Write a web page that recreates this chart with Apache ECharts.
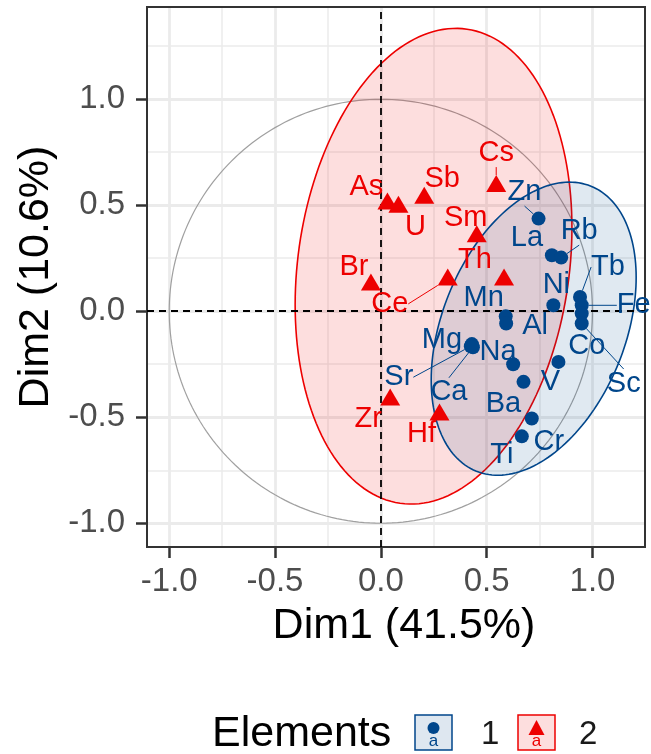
<!DOCTYPE html>
<html>
<head>
<meta charset="utf-8">
<script src="https://cdn.jsdelivr.net/npm/echarts@6/dist/echarts.min.js"></script>
<style>
  html, body { margin: 0; padding: 0; background: #ffffff; }
  #chart { width: 651px; height: 754px; }
</style>
</head>
<body>
<div id="chart"></div>
<script>
// ---------------- data ----------------
const group1Names = ['Zn','La','Rb','Ni','Tb','Fe','Co','Sc','Mn','Al','Mg','Na','Sr','Ca','V','Ba','Cr','Ti'];
const group1Dim1  = [0.745,0.808,0.852,0.815,0.941,0.949,0.949,0.949,0.590,0.592,0.430,0.625,0.425,0.435,0.839,0.674,0.713,0.666];
const group1Dim2  = [0.437,0.264,0.253,0.028,0.067,0.028,-0.011,-0.058,-0.024,-0.058,-0.155,-0.250,-0.165,-0.170,-0.239,-0.333,-0.506,-0.590];

const group2Names = ['As','U','Sb','Cs','Sm','Th','Br','Ce','Zr','Hf'];
const group2Dim1  = [0.031,0.083,0.205,0.545,0.453,0.582,-0.047,0.316,0.044,0.277];
const group2Dim2  = [0.520,0.505,0.547,0.602,0.366,0.162,0.138,0.162,-0.404,-0.475];

const groupNames = ['1', '2'];
const legendTitle = 'Elements';
const xTitle = 'Dim1 (41.5%)';
const yTitle = 'Dim2 (10.6%)';
const majorTicks = [-1.0, -0.5, 0.0, 0.5, 1.0];
const minorTicks = [-0.75, -0.25, 0.25, 0.75, 1.25];
const ellipseLevel = 0.95;

// ---------------- styling ----------------
const BLUE = '#00468B';
const RED = '#ED0000';
const FONT = '"Liberation Sans", Arial, Helvetica, sans-serif';
// label placement offsets in pixels (repel-style placement)
const labelOffsets = {
  As:[-21,-14], U:[17,23], Sb:[18,-16], Cs:[0,-31], Sm:[-11,-16], Th:[-29,-17], Br:[-17,-15],
  Ce:[-58,27], Zr:[-22,22], Hf:[-18,22],
  Zn:[-14,-27], La:[-25,-17], Rb:[18,-27], Tb:[28,-30], Ni:[3,-20], Fe:[52,0], Co:[5,32],
  Sc:[42,60], Mn:[-22,-18], Al:[29,2], Mg:[-30,-4], Na:[-15,-12], Sr:[-72,31], Ca:[-24,45],
  V:[-8,20], Ba:[-20,22], Cr:[17,23], Ti:[-20,19]
};
const withSegment = {Ce:1, Cs:1, Zn:1, Rb:1, Tb:1, Fe:1, Sc:1, Sr:1, Ca:1};

// ---------------- helpers ----------------
function normalEllipse(xs, ys, level, segments) {
  const n = xs.length;
  const mx = xs.reduce((a, b) => a + b, 0) / n;
  const my = ys.reduce((a, b) => a + b, 0) / n;
  let sxx = 0, syy = 0, sxy = 0;
  for (let i = 0; i < n; i++) {
    const dx = xs[i] - mx, dy = ys[i] - my;
    sxx += dx * dx; syy += dy * dy; sxy += dx * dy;
  }
  sxx /= (n - 1); syy /= (n - 1); sxy /= (n - 1);
  const a = Math.sqrt(sxx), b = sxy / a, c = Math.sqrt(syy - b * b);
  const dfd = n - 1;
  const qf = (dfd / 2) * (Math.pow(1 - level, -2 / dfd) - 1); // F(2, dfd) quantile
  const r = Math.sqrt(2 * qf);
  const pts = [];
  for (let k = 0; k <= segments; k++) {
    const t = k * 2 * Math.PI / segments;
    pts.push([mx + r * a * Math.cos(t), my + r * (b * Math.cos(t) + c * Math.sin(t))]);
  }
  return pts;
}
function unitCircle(segments) {
  const pts = [];
  for (let k = 0; k <= segments; k++) {
    const t = k * 2 * Math.PI / segments;
    pts.push([Math.cos(t), Math.sin(t)]);
  }
  return pts;
}
function pointData(names, xs, ys) {
  return names.map((n, i) => {
    const d = { name: n, value: [xs[i], ys[i]] };
    if (withSegment[n]) d.labelLine = { show: true };
    return d;
  });
}
function polygonSeries(points, fill, stroke, lw, z) {
  return {
    type: 'custom',
    silent: true,
    clip: true,
    z: z,
    data: [[0, 0]],
    renderItem: function (params, api) {
      return {
        type: 'polygon',
        shape: { points: points.map(p => api.coord(p)) },
        style: { fill: fill, stroke: stroke, lineWidth: lw }
      };
    }
  };
}

const ell1 = normalEllipse(group1Dim1, group1Dim2, ellipseLevel, 180);
const ell2 = normalEllipse(group2Dim1, group2Dim2, ellipseLevel, 180);
const circ = unitCircle(240);

const X_MIN = -1.105, X_MAX = 1.248, Y_MIN = -1.112, Y_MAX = 1.435;

function scatterSeries(name, names, xs, ys, color, symbol, size) {
  return {
    name: name,
    type: 'scatter',
    z: 5,
    symbol: symbol,
    symbolSize: size,
    itemStyle: { color: color, opacity: 1 },
    data: pointData(names, xs, ys),
    label: {
      show: true,
      position: 'inside',
      formatter: '{b}',
      color: color,
      fontFamily: FONT,
      fontSize: 29
    },
    labelLine: { show: false, lineStyle: { color: color, width: 1 } },
    labelLayout: function (p) {
      const o = labelOffsets[names[p.dataIndex]] || [0, 0];
      return { dx: o[0], dy: o[1] };
    },
    emphasis: { disabled: true }
  };
}

const chart = echarts.init(document.getElementById('chart'), null, { renderer: 'canvas' });

const axisCommonMajor = {
  axisLine: { show: false, onZero: false },
  axisTick: { show: true, inside: false, length: 11, customValues: majorTicks, lineStyle: { color: '#333333', width: 2.5 } },
  axisLabel: { show: true, customValues: majorTicks, color: '#4D4D4D', fontFamily: FONT, fontSize: 33,
               formatter: v => v.toFixed(1) },
  splitLine: { show: true, lineStyle: { color: '#EBEBEB', width: 2.8 } }
};
const axisCommonMinor = {
  axisLine: { show: false, onZero: false },
  axisTick: { show: false, customValues: minorTicks },
  axisLabel: { show: false, customValues: minorTicks },
  splitLine: { show: true, lineStyle: { color: '#EBEBEB', width: 1.5 } }
};

// legend key geometry (styling)
const key1 = { x: 415, y: 715, w: 37, h: 35 };
const key2 = { x: 518, y: 715, w: 37, h: 35 };

const option = {
  animation: false,
  backgroundColor: '#ffffff',
  grid: {
    left: 147, right: 6, top: 7, bottom: 207,
    show: true, borderColor: '#333333', borderWidth: 2, backgroundColor: 'transparent', z: 3
  },
  xAxis: [
    Object.assign({
      type: 'value', min: X_MIN, max: X_MAX, position: 'bottom',
      name: xTitle, nameLocation: 'middle', nameGap: 58,
      nameTextStyle: { color: '#000000', fontFamily: FONT, fontSize: 43, padding: [0, 0, 0, 16] }
    }, axisCommonMajor, { axisLabel: Object.assign({}, axisCommonMajor.axisLabel, { margin: 18 }) }),
    Object.assign({ type: 'value', min: X_MIN, max: X_MAX, position: 'bottom', gridIndex: 0 }, axisCommonMinor)
  ],
  yAxis: [
    Object.assign({
      type: 'value', min: Y_MIN, max: Y_MAX, position: 'left',
      name: yTitle, nameLocation: 'middle', nameGap: 88,
      nameTextStyle: { color: '#000000', fontFamily: FONT, fontSize: 43 }
    }, axisCommonMajor, { axisLabel: Object.assign({}, axisCommonMajor.axisLabel, { margin: 22 }) }),
    Object.assign({ type: 'value', min: Y_MIN, max: Y_MAX, position: 'left', gridIndex: 0 }, axisCommonMinor)
  ],
  graphic: [
    { type: 'text', left: 212, top: 713, z: 10,
      style: { text: legendTitle, fill: '#000000', font: '43px ' + FONT } },
    { type: 'rect', shape: { x: key1.x, y: key1.y, width: key1.w, height: key1.h }, z: 10,
      style: { fill: 'rgba(0,70,139,0.13)', stroke: BLUE, lineWidth: 1.5 } },
    { type: 'text', z: 11, x: key1.x + key1.w / 2, y: key1.y + 26,
      style: { text: 'a', fill: BLUE, font: '17px ' + FONT, align: 'center', verticalAlign: 'middle' } },
    { type: 'circle', z: 12, shape: { cx: key1.x + key1.w / 2, cy: key1.y + 13, r: 6 },
      style: { fill: BLUE } },
    { type: 'text', z: 10, x: 481, y: key1.y + key1.h / 2 + 2,
      style: { text: groupNames[0], fill: '#1A1A1A', font: '33px ' + FONT, verticalAlign: 'middle' } },
    { type: 'rect', shape: { x: key2.x, y: key2.y, width: key2.w, height: key2.h }, z: 10,
      style: { fill: 'rgba(237,0,0,0.13)', stroke: RED, lineWidth: 1.5 } },
    { type: 'text', z: 11, x: key2.x + key2.w / 2, y: key2.y + 26,
      style: { text: 'a', fill: RED, font: '17px ' + FONT, align: 'center', verticalAlign: 'middle' } },
    { type: 'polygon', z: 12,
      shape: { points: [[key2.x + key2.w / 2, key2.y + 5], [key2.x + key2.w / 2 - 8, key2.y + 20], [key2.x + key2.w / 2 + 8, key2.y + 20]] },
      style: { fill: RED } },
    { type: 'text', z: 10, x: 579, y: key2.y + key2.h / 2 + 2,
      style: { text: groupNames[1], fill: '#1A1A1A', font: '33px ' + FONT, verticalAlign: 'middle' } }
  ],
  series: [
    polygonSeries(circ, 'none', '#A0A0A0', 1.2, 1),
    polygonSeries(ell2, 'rgba(237,0,0,0.13)', RED, 1.6, 2),
    polygonSeries(ell1, 'rgba(0,70,139,0.12)', BLUE, 1.6, 2),
    {
      type: 'line', silent: true, z: 3, data: [],
      markLine: {
        silent: true, symbol: 'none', label: { show: false },
        lineStyle: { color: '#000000', type: [7, 5], width: 1.8 },
        data: [{ xAxis: 0 }, { yAxis: 0 }]
      }
    },
    scatterSeries(groupNames[0], group1Names, group1Dim1, group1Dim2, BLUE, 'circle', 14),
    scatterSeries(groupNames[1], group2Names, group2Dim1, group2Dim2, RED, 'triangle', [20, 17])
  ]
};
chart.setOption(option);
</script>
</body>
</html>
